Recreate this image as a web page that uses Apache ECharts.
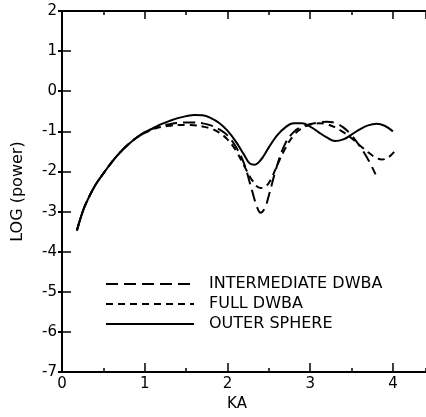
<!DOCTYPE html>
<html>
<head>
<meta charset="utf-8">
<script src="https://cdn.jsdelivr.net/npm/echarts@6/dist/echarts.min.js"></script>
<style>
  html, body { margin: 0; padding: 0; background: #fff; }
  #chart { width: 426px; height: 417px; }
</style>
</head>
<body>
<div id="chart"></div>
<script>
// KA versus log power for three scattering approximations: [KA, LOG(power)]
var outerSphere = [
  [0.18, -3.47], [0.25, -3.0], [0.3, -2.75], [0.4, -2.35], [0.5, -2.05],
  [0.6, -1.77], [0.7, -1.53], [0.8, -1.33], [0.9, -1.16], [1.0, -1.02],
  [1.1, -0.92], [1.2, -0.82], [1.3, -0.74], [1.4, -0.67], [1.5, -0.62],
  [1.6, -0.59], [1.7, -0.6], [1.8, -0.67], [1.9, -0.79], [2.0, -0.98],
  [2.1, -1.25], [2.2, -1.58], [2.27, -1.8], [2.33, -1.83], [2.4, -1.72],
  [2.5, -1.4], [2.6, -1.1], [2.7, -0.9], [2.8, -0.8], [2.9, -0.8],
  [3.0, -0.88], [3.1, -1.02], [3.2, -1.15], [3.3, -1.24], [3.4, -1.2],
  [3.5, -1.08], [3.6, -0.95], [3.7, -0.85], [3.8, -0.81], [3.9, -0.86],
  [4.0, -1.0]
];
var intermediateDwba = [
  [0.18, -3.47], [0.25, -3.0], [0.3, -2.75], [0.4, -2.35], [0.5, -2.05],
  [0.6, -1.77], [0.7, -1.53], [0.8, -1.33], [0.9, -1.16], [1.0, -1.03],
  [1.1, -0.93], [1.2, -0.86], [1.3, -0.82], [1.4, -0.79], [1.5, -0.78],
  [1.6, -0.78], [1.7, -0.8], [1.8, -0.85], [1.9, -0.95], [2.0, -1.1],
  [2.1, -1.38], [2.2, -1.8], [2.3, -2.5], [2.36, -2.9], [2.4, -3.03],
  [2.45, -2.92], [2.5, -2.6], [2.6, -1.85], [2.7, -1.3], [2.8, -1.02],
  [2.9, -0.88], [3.0, -0.82], [3.1, -0.78], [3.2, -0.76], [3.3, -0.79],
  [3.4, -0.9], [3.5, -1.1], [3.6, -1.37], [3.7, -1.7], [3.79, -2.07]
];
var fullDwba = [
  [0.18, -3.47], [0.25, -3.0], [0.3, -2.75], [0.4, -2.35], [0.5, -2.05],
  [0.6, -1.77], [0.7, -1.53], [0.8, -1.33], [0.9, -1.16], [1.0, -1.04],
  [1.1, -0.95], [1.2, -0.89], [1.3, -0.86], [1.4, -0.84], [1.5, -0.84],
  [1.6, -0.85], [1.7, -0.88], [1.8, -0.93], [1.9, -1.03], [2.0, -1.2],
  [2.1, -1.47], [2.2, -1.85], [2.3, -2.22], [2.4, -2.41], [2.46, -2.38],
  [2.52, -2.22], [2.6, -1.85], [2.7, -1.42], [2.8, -1.1], [2.9, -0.92],
  [3.0, -0.83], [3.1, -0.8], [3.2, -0.82], [3.3, -0.9], [3.4, -1.02],
  [3.5, -1.17], [3.6, -1.35], [3.7, -1.52], [3.8, -1.66], [3.87, -1.7],
  [3.95, -1.64], [4.02, -1.5]
];

var seriesNames = ['INTERMEDIATE DWBA', 'FULL DWBA', 'OUTER SPHERE'];
var xRange = [0, 4.4];
var yRange = [-7, 2];

var ink = '#000';
var font = 'DejaVu Sans';

var chart = echarts.init(document.getElementById('chart'), null, { renderer: 'canvas' });

function bareX(position, interval, len, withLine) {
  return {
    type: 'value', position: position, min: xRange[0], max: xRange[1], interval: interval,
    axisLine: { show: withLine, onZero: false, lineStyle: { color: ink, width: 2 } },
    axisTick: { show: true, inside: true, length: len, lineStyle: { color: ink, width: 1.5 } },
    axisLabel: { show: false }, splitLine: { show: false }
  };
}

chart.setOption({
  backgroundColor: '#fff',
  animation: false,
  grid: { left: 62, top: 11, width: 364, height: 366, containLabel: false },
  legend: {
    orient: 'vertical', left: 105, top: 276, padding: 0,
    itemWidth: 88, itemHeight: 10, itemGap: 4,
    data: seriesNames,
    itemStyle: { opacity: 0 },
    textStyle: { color: ink, fontFamily: font, fontSize: 16, lineHeight: 16, padding: [0, 0, 0, 10] }
  },
  xAxis: [
    {
      type: 'value', position: 'bottom', min: xRange[0], max: xRange[1], interval: 1,
      name: 'KA', nameLocation: 'middle', nameGap: 18,
      nameTextStyle: { color: ink, fontFamily: font, fontSize: 15, padding: [0, 14, 0, 0] },
      axisLine: { show: true, onZero: false, lineStyle: { color: ink, width: 2 } },
      axisTick: { show: true, inside: true, length: 9, lineStyle: { color: ink, width: 1.5 } },
      axisLabel: {
        color: ink, fontFamily: font, fontSize: 15, margin: 5, showMaxLabel: false,
        formatter: function (v) { return Number.isInteger(v) ? String(v) : ''; }
      },
      splitLine: { show: false }
    },
    bareX('bottom', 0.5, 4, false),
    bareX('top', 1, 8, true),
    bareX('top', 0.5, 4, false)
  ],
  yAxis: [
    {
      type: 'value', position: 'left', min: yRange[0], max: yRange[1], interval: 1,
      name: 'LOG (power)', nameLocation: 'middle', nameGap: 36, nameRotate: 90,
      nameTextStyle: { color: ink, fontFamily: font, fontSize: 16 },
      axisLine: { show: true, onZero: false, lineStyle: { color: ink, width: 2 } },
      axisTick: { show: true, inside: true, length: 9, lineStyle: { color: ink, width: 1.5 } },
      axisLabel: { color: ink, fontFamily: font, fontSize: 15, margin: 5 },
      splitLine: { show: false }
    },
    {
      type: 'value', position: 'right', min: yRange[0], max: yRange[1], interval: 1,
      axisLine: { show: false },
      axisTick: { show: true, inside: true, length: 4, lineStyle: { color: ink, width: 2 } },
      axisLabel: { show: false }, splitLine: { show: false }
    }
  ],
  series: [
    {
      name: seriesNames[0], type: 'line', data: intermediateDwba, smooth: 0.4, symbol: 'none',
      lineStyle: { color: ink, width: 2, type: [12, 6] }, itemStyle: { color: ink }
    },
    {
      name: seriesNames[1], type: 'line', data: fullDwba, smooth: 0.4, symbol: 'none',
      lineStyle: { color: ink, width: 2, type: [7, 5] }, itemStyle: { color: ink }
    },
    {
      name: seriesNames[2], type: 'line', data: outerSphere, smooth: 0.4, symbol: 'none',
      lineStyle: { color: ink, width: 2 }, itemStyle: { color: ink }
    }
  ]
});
</script>
</body>
</html>
